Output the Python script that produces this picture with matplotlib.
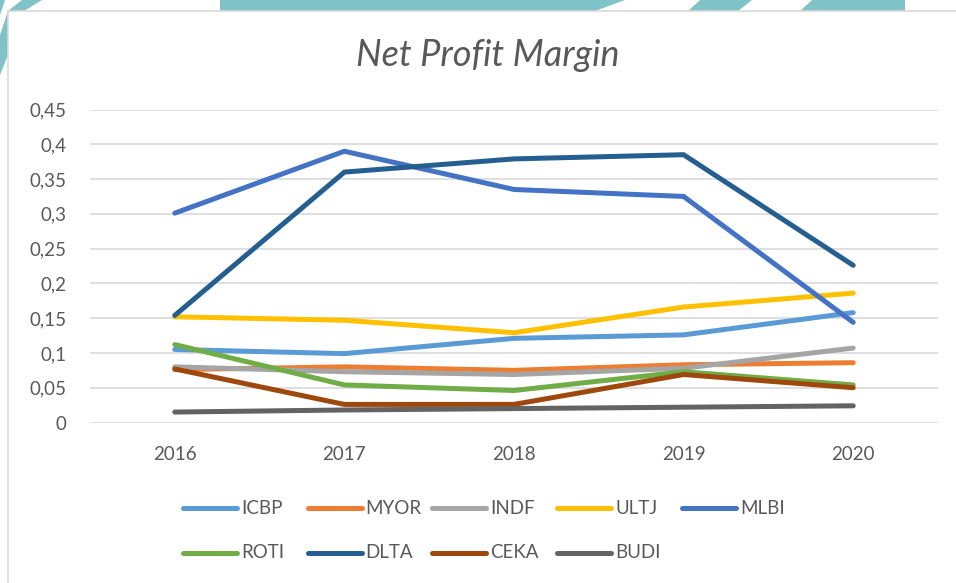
import numpy as np
import matplotlib.pyplot as plt
from matplotlib.lines import Line2D
from matplotlib.patches import Polygon, Rectangle

years = ["2016", "2017", "2018", "2019", "2020"]

icbp = [0.105, 0.099, 0.121, 0.126, 0.158]
myor = [0.076, 0.080, 0.075, 0.083, 0.086]
indf = [0.080, 0.073, 0.069, 0.078, 0.107]
ultj = [0.152, 0.147, 0.129, 0.166, 0.186]
mlbi = [0.301, 0.390, 0.335, 0.325, 0.144]
roti = [0.112, 0.054, 0.046, 0.073, 0.054]
dlta = [0.154, 0.360, 0.379, 0.385, 0.226]
ceka = [0.077, 0.026, 0.026, 0.069, 0.050]
budi = [0.015, 0.018, 0.020, 0.022, 0.024]

names = ["ICBP", "MYOR", "INDF", "ULTJ", "MLBI", "ROTI", "DLTA", "CEKA", "BUDI"]
series = [icbp, myor, indf, ultj, mlbi, roti, dlta, ceka, budi]
colors = ["#5B9BD5", "#ED7D31", "#A5A5A5", "#FFC000", "#4472C4",
          "#70AD47", "#255E91", "#9E480E", "#636363"]

W, H = 956, 583
fig = plt.figure(figsize=(W / 100, H / 100), dpi=100)
fig.patch.set_facecolor("white")

def fx(px):
    return px / W

def fy(py):
    return 1 - py / H

# page background decoration (teal shapes behind the chart box)
teal = "#7FC3C9"
shapes = [
    [(0, 0), (5, 0), (0, 15)],
    [(22, 0), (42, 0), (24, 11), (8, 22), (8, 55), (0, 75), (0, 35), (8, 11)],
    [(220, 0), (625, 0), (595, 11), (220, 11)],
    [(700, 0), (752, 0), (738, 11), (688, 11)],
    [(812, 0), (905, 0), (905, 11), (800, 11)],
]
for pts in shapes:
    fig.patches.append(Polygon([(fx(x), fy(y)) for x, y in pts], closed=True,
                               transform=fig.transFigure, facecolor=teal,
                               edgecolor="none", zorder=0))

# chart box
fig.patches.append(Rectangle((fx(8), fy(H + 5)), fx(W + 10), fy(11) - fy(H + 5),
                             transform=fig.transFigure, facecolor="white",
                             edgecolor="#D9D9D9", linewidth=1.2, zorder=1))

ax = fig.add_axes([fx(90), fy(422.5), fx(938) - fx(90), fy(109.5) - fy(422.5)])
ax.set_facecolor("none")
ax.set_zorder(2)

x = np.arange(len(years))
for name, vals, c in zip(names, series, colors):
    ax.plot(x, vals, color=c, linewidth=3.6, solid_capstyle="round",
            solid_joinstyle="miter", label=name)

ax.set_xlim(-0.5, 4.5)
ax.set_ylim(0, 0.45)
yt = np.arange(0, 0.451, 0.05)
ax.set_yticks(yt)
ax.set_yticklabels(["0" if v == 0 else ("%g" % round(v, 2)).replace(".", ",") for v in yt])
ax.set_xticks(x)
ax.set_xticklabels(years)
ax.grid(axis="y", color="#D9D9D9", linewidth=1.2)
ax.set_axisbelow(True)
for s in ax.spines.values():
    s.set_visible(False)
ax.tick_params(axis="both", length=0, labelsize=13.5, labelcolor="#595959")
ax.tick_params(axis="y", pad=17)
ax.tick_params(axis="x", pad=17)
for lab in ax.get_xticklabels() + ax.get_yticklabels():
    lab.set_fontfamily("Lato")

fig.text(fx(488), fy(55), "Net Profit Margin", ha="center", va="center",
         fontsize=26, fontstyle="italic", fontweight="normal", family="Lato",
         color="#595959", zorder=3)

# legend laid out in fixed-width columns like the original
for i, (name, c) in enumerate(zip(names, colors)):
    col, row = i % 5, i // 5
    x0 = 183 + col * 124.7
    y0 = 508 + row * 45
    fig.add_artist(Line2D([fx(x0), fx(x0 + 54)], [fy(y0), fy(y0)],
                          transform=fig.transFigure, color=c, linewidth=3.6,
                          solid_capstyle="round", zorder=3))
    fig.text(fx(x0 + 58), fy(y0), name, ha="left", va="center", fontsize=13.5,
             family="Lato", color="#595959", zorder=3)

fig.savefig("out.png", dpi=100)
